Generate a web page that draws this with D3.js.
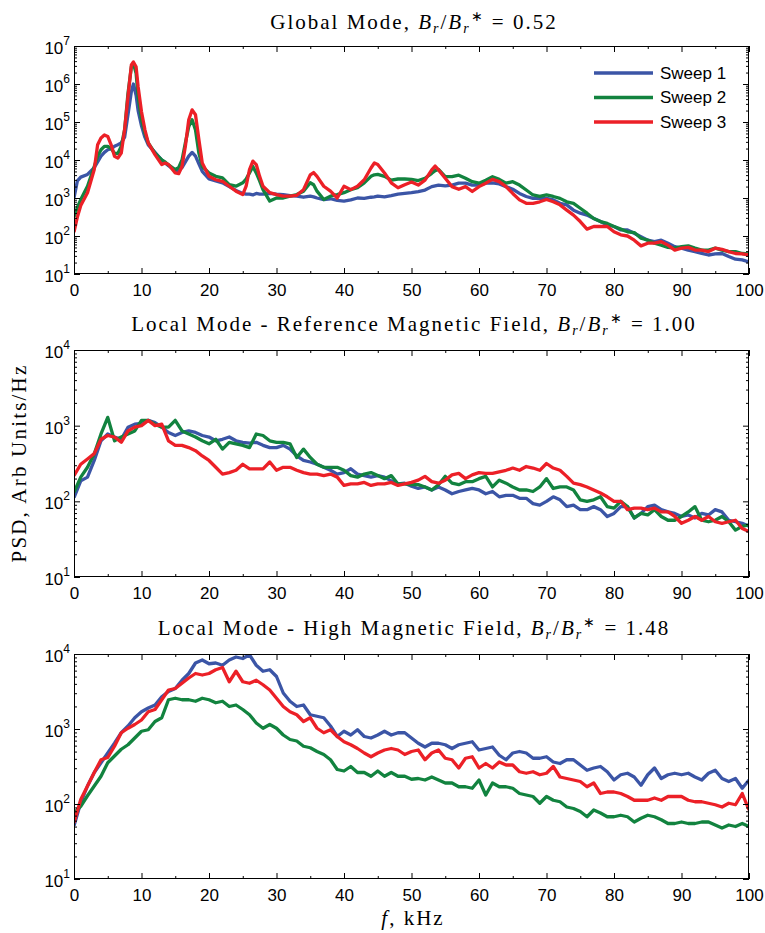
<!DOCTYPE html>
<html>
<head>
<meta charset="utf-8">
<script src="https://cdn.jsdelivr.net/npm/d3@7"></script>
<style>
  body { margin: 0; background: #fff; }
  svg { display: block; }
</style>
</head>
<body>
<svg id="chart" width="765" height="933"></svg>
<script>
// values are log10(PSD)
const sweepNames = ["Sweep 1", "Sweep 2", "Sweep 3"];
const sweepColors = ["#3b55a6", "#12833f", "#ec2027"];

// panel 1 - global mode (finer sampling around the peaks)
const freqGlobal = [0,0.5,1,2,3,3.5,4,4.5,5,5.5,6,6.5,7,7.5,8,8.5,8.8,9.2,9.5,10,
  10.5,11,12,13,13.5,14,15,15.5,16,16.5,17,17.5,18,18.5,19,
  20,21,22,23,24,25,25.5,26,26.5,27,27.5,28,29,30,31,32,33,34,35,35.5,
  36,37,38,39,40,41,42,43,44,44.5,45,46,47,48,49,50,51,52,53,53.5,
  54,55,56,57,58,59,60,61,62,63,64,65,66,67,68,69,70,71,72,73,74,75,76,77,
  78,79,80,81,82,83,84,85,86,87,88,89,90,91,92,93,94,95,96,97,98,99,100];

const globalSweep1 = [3.0,3.45,3.55,3.62,3.8,3.95,4.1,4.2,4.27,4.3,4.36,4.4,4.45,4.6,5.2,5.8,6.0,5.7,5.3,4.9,
  4.6,4.4,4.2,4.0,3.92,3.85,3.72,3.72,3.8,3.95,4.1,4.2,4.1,3.9,3.7,
  3.5,3.45,3.4,3.3,3.2,3.12,3.1,3.1,3.08,3.12,3.1,3.1,3.12,3.1,3.09,3.06,3.05,3.02,3.05,3.03,
  3.0,2.96,2.98,2.94,2.92,2.95,3.0,2.99,3.02,3.03,3.05,3.03,3.06,3.1,3.12,3.14,3.17,3.21,3.3,3.32,
  3.34,3.32,3.34,3.39,3.39,3.34,3.34,3.39,3.4,3.37,3.3,3.23,3.12,3.04,2.99,2.99,2.99,2.95,2.86,2.82,2.68,2.6,2.55,2.46,
  2.38,2.29,2.25,2.16,2.16,2.07,1.98,1.89,1.85,1.89,1.81,1.72,1.68,1.63,1.59,1.54,1.5,1.53,1.54,1.46,1.39,1.37,1.32];

const globalSweep2 = [2.5,2.75,2.96,3.31,3.83,4.1,4.27,4.36,4.36,4.3,4.18,4.17,4.36,4.8,5.76,6.45,6.54,6.28,5.67,5.06,
  4.71,4.45,4.18,4.0,3.95,3.87,3.75,3.8,4.0,4.45,4.88,5.06,4.79,4.18,3.83,
  3.66,3.57,3.53,3.35,3.31,3.4,3.5,3.66,3.83,3.66,3.45,3.22,2.92,3.0,3.0,3.05,3.09,3.18,3.4,3.35,
  3.18,2.96,3.05,3.09,3.14,3.22,3.27,3.4,3.57,3.61,3.62,3.57,3.47,3.5,3.5,3.49,3.46,3.52,3.65,3.72,
  3.75,3.56,3.56,3.6,3.52,3.43,3.39,3.47,3.56,3.49,3.39,3.43,3.34,3.21,3.08,3.04,3.08,3.04,2.99,2.9,2.86,2.73,2.6,2.46,
  2.38,2.33,2.25,2.18,2.11,2.09,1.94,1.89,1.81,1.76,1.7,1.68,1.72,1.74,1.68,1.63,1.63,1.68,1.63,1.59,1.59,1.54,1.53];

const globalSweep3 = [2.1,2.5,2.8,3.14,3.75,4.4,4.58,4.66,4.62,4.4,4.1,4.05,4.18,4.8,5.67,6.5,6.58,6.45,5.93,5.27,
  4.8,4.45,4.14,3.88,3.92,3.88,3.66,3.64,3.83,4.36,5.06,5.32,5.19,4.54,3.92,
  3.57,3.48,3.44,3.31,3.18,3.09,3.31,3.75,3.97,3.88,3.57,3.31,3.14,3.09,3.05,3.05,3.07,3.22,3.61,3.67,
  3.57,3.31,3.18,3.0,3.31,3.22,3.31,3.48,3.79,3.92,3.88,3.66,3.4,3.27,3.35,3.42,3.34,3.47,3.74,3.84,
  3.74,3.52,3.3,3.23,3.3,3.17,3.3,3.39,3.49,3.43,3.3,3.12,2.95,2.86,2.86,2.9,2.96,2.9,2.82,2.68,2.55,2.38,2.18,2.25,
  2.25,2.25,2.11,2.03,2.0,1.89,1.74,1.81,1.81,1.85,1.76,1.63,1.68,1.7,1.63,1.63,1.59,1.68,1.65,1.59,1.54,1.53,1.5];

// panels 2 and 3 - sampled every 1 kHz
const freqLocal = d3.range(0, 101, 1);

const refSweep1 = [2.05,2.27,2.32,2.54,2.8,2.89,2.85,2.82,2.98,3.02,
  3.03,3.07,3.04,2.98,2.91,2.87,2.91,2.93,2.91,2.87,
  2.85,2.8,2.82,2.85,2.8,2.78,2.77,2.78,2.74,2.71,
  2.71,2.74,2.69,2.6,2.54,2.52,2.49,2.45,2.41,2.36,
  2.38,2.43,2.36,2.34,2.32,2.34,2.32,2.27,2.23,2.24,
  2.2,2.17,2.19,2.15,2.19,2.15,2.1,2.13,2.15,2.17,
  2.15,2.1,2.13,2.06,2.08,2.08,2.04,2.04,1.97,1.95,
  2.0,2.06,2.02,1.93,1.95,1.89,1.89,1.93,1.89,1.8,
  1.84,1.93,1.93,1.78,1.84,1.93,1.95,1.89,1.86,1.84,
  1.8,1.82,1.78,1.84,1.82,1.89,1.86,1.75,1.73,1.71,1.67];

const refSweep2 = [2.12,2.32,2.45,2.63,2.89,3.11,2.8,2.85,2.89,2.93,
  3.07,3.07,3.02,2.98,2.98,3.07,2.93,2.89,2.85,2.8,
  2.76,2.82,2.69,2.78,2.76,2.74,2.71,2.89,2.87,2.8,
  2.78,2.78,2.76,2.58,2.69,2.58,2.49,2.45,2.45,2.45,
  2.41,2.34,2.32,2.36,2.38,2.34,2.3,2.34,2.23,2.23,
  2.22,2.22,2.19,2.15,2.22,2.33,2.24,2.22,2.26,2.26,
  2.3,2.33,2.19,2.28,2.24,2.19,2.15,2.15,2.13,2.19,
  2.3,2.17,2.19,2.19,2.15,2.02,2.0,2.02,2.06,1.93,
  1.91,2.0,1.93,1.78,1.84,1.82,1.89,1.8,1.75,1.75,
  1.8,1.86,1.93,1.75,1.73,1.75,1.8,1.73,1.62,1.67,1.69];

const refSweep3 = [2.34,2.49,2.56,2.63,2.82,2.87,2.85,2.78,2.93,2.98,
  3.0,3.07,3.0,3.02,2.8,2.74,2.74,2.71,2.67,2.6,
  2.54,2.45,2.36,2.38,2.41,2.49,2.43,2.43,2.43,2.52,
  2.41,2.45,2.45,2.41,2.38,2.36,2.36,2.34,2.36,2.32,
  2.21,2.23,2.23,2.25,2.21,2.23,2.23,2.25,2.21,2.23,
  2.25,2.28,2.33,2.26,2.24,2.28,2.35,2.37,2.3,2.35,
  2.38,2.37,2.37,2.39,2.41,2.44,2.41,2.46,2.44,2.41,
  2.5,2.44,2.41,2.33,2.24,2.22,2.19,2.15,2.11,2.06,
  2.0,2.0,1.89,1.91,1.91,1.89,1.91,1.86,1.86,1.8,
  1.71,1.75,1.8,1.75,1.8,1.73,1.71,1.73,1.75,1.64,1.6];

const highSweep1 = [1.71,2.02,2.24,2.42,2.55,2.68,2.81,2.95,3.04,3.15,
  3.23,3.28,3.32,3.43,3.5,3.54,3.65,3.74,3.88,3.92,
  3.87,3.88,3.85,3.92,3.96,3.94,3.99,3.85,3.77,3.79,
  3.7,3.48,3.37,3.3,3.32,3.19,3.17,3.15,3.04,2.9,
  2.97,2.92,2.99,2.9,2.88,2.92,2.97,2.92,2.95,2.95,
  2.88,2.81,2.76,2.81,2.81,2.79,2.74,2.79,2.81,2.83,
  2.72,2.74,2.76,2.65,2.59,2.68,2.7,2.68,2.61,2.61,
  2.63,2.56,2.54,2.59,2.59,2.52,2.45,2.48,2.5,2.43,
  2.32,2.39,2.41,2.36,2.25,2.39,2.48,2.34,2.39,2.41,
  2.39,2.41,2.36,2.32,2.41,2.45,2.34,2.3,2.34,2.21,2.32];

const highSweep2 = [1.88,1.97,2.11,2.24,2.37,2.55,2.64,2.73,2.79,2.88,
  2.97,2.99,3.1,3.15,3.39,3.41,3.39,3.39,3.37,3.41,
  3.39,3.35,3.37,3.3,3.32,3.26,3.19,3.08,3.01,3.06,
  3.01,2.92,2.86,2.84,2.77,2.75,2.7,2.66,2.59,2.46,
  2.44,2.5,2.42,2.42,2.37,2.44,2.37,2.42,2.37,2.37,
  2.33,2.34,2.32,2.36,2.32,2.28,2.28,2.23,2.23,2.21,
  2.32,2.12,2.28,2.23,2.23,2.21,2.14,2.12,2.1,2.01,
  2.1,2.05,2.03,1.96,1.94,1.9,1.83,1.92,1.88,1.83,
  1.83,1.85,1.83,1.76,1.81,1.85,1.83,1.79,1.74,1.74,
  1.76,1.74,1.74,1.76,1.76,1.72,1.68,1.72,1.7,1.74,1.7];

const highSweep3 = [1.75,2.06,2.24,2.42,2.59,2.62,2.77,2.95,3.01,3.06,
  3.12,3.23,3.26,3.39,3.52,3.54,3.61,3.68,3.74,3.72,
  3.74,3.79,3.82,3.63,3.77,3.63,3.61,3.65,3.59,3.52,
  3.41,3.3,3.23,3.19,3.1,3.15,3.01,2.95,2.99,2.9,
  2.83,2.79,2.74,2.68,2.63,2.68,2.72,2.74,2.72,2.66,
  2.7,2.72,2.59,2.68,2.72,2.61,2.59,2.48,2.61,2.63,
  2.48,2.54,2.48,2.56,2.52,2.52,2.43,2.41,2.43,2.39,
  2.41,2.5,2.36,2.34,2.32,2.3,2.23,2.28,2.14,2.16,
  2.16,2.14,2.1,2.05,2.05,2.05,2.08,2.05,2.1,2.1,
  2.1,2.05,2.03,2.03,2.01,1.99,1.96,2.01,1.99,2.14,1.92];

const xTicks = [0,10,20,30,40,50,60,70,80,90,100];
const xMinorTicks = [5,15,25,35,45,55,65,75,85,95];

const panels = [
  { prefix: "Global Mode, ", ratio: "0.52", freq: freqGlobal,
    series: [globalSweep1, globalSweep2, globalSweep3],
    decades: [1, 7], top: 46, bottom: 274, titleY: 29, legend: true },
  { prefix: "Local Mode - Reference Magnetic Field, ", ratio: "1.00", freq: freqLocal,
    series: [refSweep1, refSweep2, refSweep3],
    decades: [1, 4], top: 350, bottom: 577, titleY: 331, legend: false },
  { prefix: "Local Mode - High Magnetic Field, ", ratio: "1.48", freq: freqLocal,
    series: [highSweep1, highSweep2, highSweep3],
    decades: [1, 4], top: 654, bottom: 879, titleY: 635, legend: false }
];

const serif = "'Liberation Serif', 'Times New Roman', serif";
const sans = "'Liberation Sans', Arial, sans-serif";
const left = 74, right = 749;

const svg = d3.select("#chart");
svg.append("rect").attr("width", 765).attr("height", 933).attr("fill", "#fff");

const x = d3.scaleLinear().domain([0, 100]).range([left, right]);

panels.forEach((p, idx) => drawPanel(p, idx));

function drawPanel(p, idx) {
  const y = d3.scaleLog()
              .domain([Math.pow(10, p.decades[0]), Math.pow(10, p.decades[1])])
              .range([p.bottom, p.top]);

  const g = svg.append("g");

  const clipId = "clip" + idx;
  svg.append("clipPath").attr("id", clipId)
     .append("rect")
     .attr("x", left).attr("y", p.top)
     .attr("width", right - left).attr("height", p.bottom - p.top);

  const line = d3.line()
                 .x((d, i) => x(p.freq[i]))
                 .y(d => y(Math.pow(10, d)));

  g.append("g")
   .attr("clip-path", "url(#" + clipId + ")")
   .selectAll("path")
   .data(p.series)
   .join("path")
   .attr("d", line)
   .attr("fill", "none")
   .attr("stroke", (d, i) => sweepColors[i])
   .attr("stroke-width", 3.3)
   .attr("stroke-linejoin", "round");

  // ticks
  const majorY = d3.range(p.decades[0], p.decades[1] + 1).map(e => Math.pow(10, e));
  const minorY = [];
  for (let e = p.decades[0]; e < p.decades[1]; e++) {
    for (let k = 2; k <= 9; k++) minorY.push(k * Math.pow(10, e));
  }

  const axes = g.append("g").attr("class", "axes");

  const xb = axes.append("g")
    .attr("transform", "translate(0," + p.bottom + ")")
    .call(d3.axisBottom(x).tickValues(xTicks).tickSize(-6).tickSizeOuter(0).tickPadding(10).tickFormat(d3.format("d")));
  xb.selectAll("text").style("font-family", sans).style("font-size", "17px").attr("fill", "#000");

  axes.append("g")
    .attr("transform", "translate(0," + p.bottom + ")")
    .call(d3.axisBottom(x).tickValues(xMinorTicks).tickSize(-3).tickSizeOuter(0).tickFormat(""));
  axes.append("g")
    .attr("transform", "translate(0," + p.top + ")")
    .call(d3.axisTop(x).tickValues(xTicks).tickSize(-6).tickSizeOuter(0).tickFormat(""));
  axes.append("g")
    .attr("transform", "translate(0," + p.top + ")")
    .call(d3.axisTop(x).tickValues(xMinorTicks).tickSize(-3).tickSizeOuter(0).tickFormat(""));

  axes.append("g")
    .attr("transform", "translate(" + left + ",0)")
    .call(d3.axisLeft(y).tickValues(majorY).tickSize(-6).tickSizeOuter(0).tickFormat(""));
  axes.append("g")
    .attr("transform", "translate(" + left + ",0)")
    .call(d3.axisLeft(y).tickValues(minorY).tickSize(-3).tickSizeOuter(0).tickFormat(""));
  axes.append("g")
    .attr("transform", "translate(" + right + ",0)")
    .call(d3.axisRight(y).tickValues(majorY).tickSize(-6).tickSizeOuter(0).tickFormat(""));
  axes.append("g")
    .attr("transform", "translate(" + right + ",0)")
    .call(d3.axisRight(y).tickValues(minorY).tickSize(-3).tickSizeOuter(0).tickFormat(""));

  axes.selectAll(".domain").remove();
  axes.selectAll(".tick line").attr("stroke", "#000");

  // y labels 10^n
  const ylab = g.append("g").selectAll("text")
    .data(d3.range(p.decades[0], p.decades[1] + 1))
    .join("text")
    .attr("x", left - 4)
    .attr("y", e => y(Math.pow(10, e)) + 8)
    .attr("text-anchor", "end")
    .style("font-family", sans)
    .style("font-size", "17px");
  ylab.append("tspan").text("10");
  ylab.append("tspan").attr("dy", -9).style("font-size", "12px").text(e => e);

  // frame
  g.append("rect")
   .attr("x", left + 0.5).attr("y", p.top + 0.5)
   .attr("width", right - left - 1).attr("height", p.bottom - p.top - 1)
   .attr("fill", "none").attr("stroke", "#000").attr("stroke-width", 1);

  addTitle(p.titleY, p.prefix, p.ratio);

  if (p.legend) buildLegend(g);
}

function addTitle(yPos, prefix, ratio) {
  const t = svg.append("text")
    .attr("x", 414).attr("y", yPos)
    .attr("text-anchor", "middle")
    .style("font-family", serif)
    .style("font-size", "21px")
    .style("letter-spacing", "2px");
  t.append("tspan").text(prefix);
  t.append("tspan").style("font-style", "italic").text("B");
  t.append("tspan").attr("dy", 4).style("font-size", "14px").style("font-style", "italic").text("r");
  t.append("tspan").attr("dy", -4).text("/");
  t.append("tspan").style("font-style", "italic").text("B");
  t.append("tspan").attr("dy", 4).style("font-size", "14px").style("font-style", "italic").text("r");
  t.append("tspan").attr("dy", -12).style("font-size", "14px").text("\u2217");
  t.append("tspan").attr("dy", 8).text(" = " + ratio);
}

function buildLegend(g) {
  const legend = g.selectAll(".legend")
    .data(sweepNames)
    .join("g")
    .attr("class", "legend")
    .attr("transform", (d, i) => "translate(0," + (73 + i * 24.5) + ")");

  legend.append("line")
    .attr("x1", 594).attr("x2", 653)
    .attr("stroke", (d, i) => sweepColors[i])
    .attr("stroke-width", 3.3);

  legend.append("text")
    .attr("x", 660).attr("dy", "0.35em")
    .style("font-family", sans).style("font-size", "17px")
    .text(d => d);
}

// axis titles
svg.append("text")
  .attr("transform", "translate(26,463) rotate(-90)")
  .attr("text-anchor", "middle")
  .style("font-family", serif).style("font-size", "21px")
  .style("letter-spacing", "2.2px")
  .text("PSD, Arb Units/Hz");

const xt = svg.append("text")
  .attr("x", 413).attr("y", 925)
  .attr("text-anchor", "middle")
  .style("font-family", serif).style("font-size", "21px")
  .style("letter-spacing", "2px");
xt.append("tspan").style("font-style", "italic").text("f");
xt.append("tspan").text(", kHz");
</script>
</body>
</html>
